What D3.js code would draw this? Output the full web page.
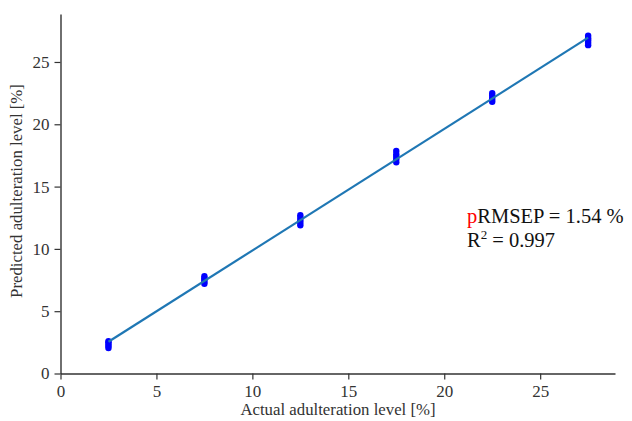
<!DOCTYPE html>
<html><head><meta charset="utf-8">
<script src="https://cdn.jsdelivr.net/npm/d3@7"></script>
<style>body{margin:0;background:#fff}svg{display:block}</style>
</head><body><svg id="c" width="632" height="421"></svg>
<script>
const levels = [2.5, 7.5, 12.5, 17.5, 22.5, 27.5];
const predicted = [
  [2.05, 2.2, 2.35, 2.5, 2.6],
  [7.2, 7.35, 7.5, 7.65, 7.8],
  [11.9, 12.1, 12.3, 12.5, 12.7],
  [16.95, 17.2, 17.4, 17.6, 17.85],
  [21.8, 21.95, 22.1, 22.3, 22.5],
  [26.35, 26.55, 26.75, 26.9, 27.1]
];
const fitX = [2.5, 27.5];
const fitY = [2.55, 26.95];
const xTicks = [0, 5, 10, 15, 20, 25];
const yTicks = [0, 5, 10, 15, 20, 25];

(function () {
const FONT = '"Liberation Serif", "Times New Roman", serif';
const svg = d3.select('#c');
const mLeft = 60.5, mRight = 615, mTop = 14, mBottom = 373.5;
const x = d3.scaleLinear().domain([0, 28.9]).range([mLeft, mRight]);
const y = d3.scaleLinear().domain([0, 28.85]).range([mBottom, mTop]);

const xa = svg.append('g').attr('transform', `translate(0,${mBottom})`)
  .call(d3.axisBottom(x).tickValues(xTicks).tickSize(6).tickPadding(5).tickSizeOuter(0));
const ya = svg.append('g').attr('transform', `translate(${mLeft},0)`)
  .call(d3.axisLeft(y).tickValues(yTicks).tickSize(6).tickPadding(5).tickSizeOuter(0));
[xa, ya].forEach(a => {
  a.attr('font-family', FONT).attr('font-size', 17);
  a.select('.domain').attr('stroke', '#333').attr('stroke-width', 1.4);
  a.selectAll('.tick line').attr('stroke', '#333').attr('stroke-width', 1.2);
  a.selectAll('.tick text').attr('fill', '#333');
});

const pts = [];
levels.forEach((lv, i) => predicted[i].forEach(p => pts.push([lv, p])));
svg.append('g').selectAll('circle').data(pts).join('circle')
  .attr('cx', d => x(d[0])).attr('cy', d => y(d[1])).attr('r', 3.2)
  .attr('fill', '#0000ff');

svg.append('line')
  .attr('x1', x(fitX[0])).attr('y1', y(fitY[0]))
  .attr('x2', x(fitX[1])).attr('y2', y(fitY[1]))
  .attr('stroke', '#1f77b4').attr('stroke-width', 2.2);

svg.append('text').attr('x', 338).attr('y', 415).attr('text-anchor', 'middle')
  .attr('font-family', FONT).attr('font-size', 16.8)
  .attr('fill', '#333').text('Actual adulteration level [%]');
svg.append('text').attr('transform', 'translate(22,191) rotate(-90)').attr('text-anchor', 'middle')
  .attr('font-family', FONT).attr('font-size', 16.8)
  .attr('fill', '#333').text('Predicted adulteration level [%]');

const t1 = svg.append('text').attr('x', 467).attr('y', 223)
  .attr('font-family', FONT).attr('font-size', 20.5).attr('fill', '#111');
t1.append('tspan').attr('fill', '#ff0000').text('p');
t1.append('tspan').text('RMSEP = 1.54 %');
const t2 = svg.append('text').attr('x', 467).attr('y', 247)
  .attr('font-family', FONT).attr('font-size', 20.5).attr('fill', '#111');
t2.append('tspan').text('R');
t2.append('tspan').attr('dy', -8).attr('font-size', 13).text('2');
t2.append('tspan').attr('dy', 8).text(' = 0.997');
})();
</script></body></html>
